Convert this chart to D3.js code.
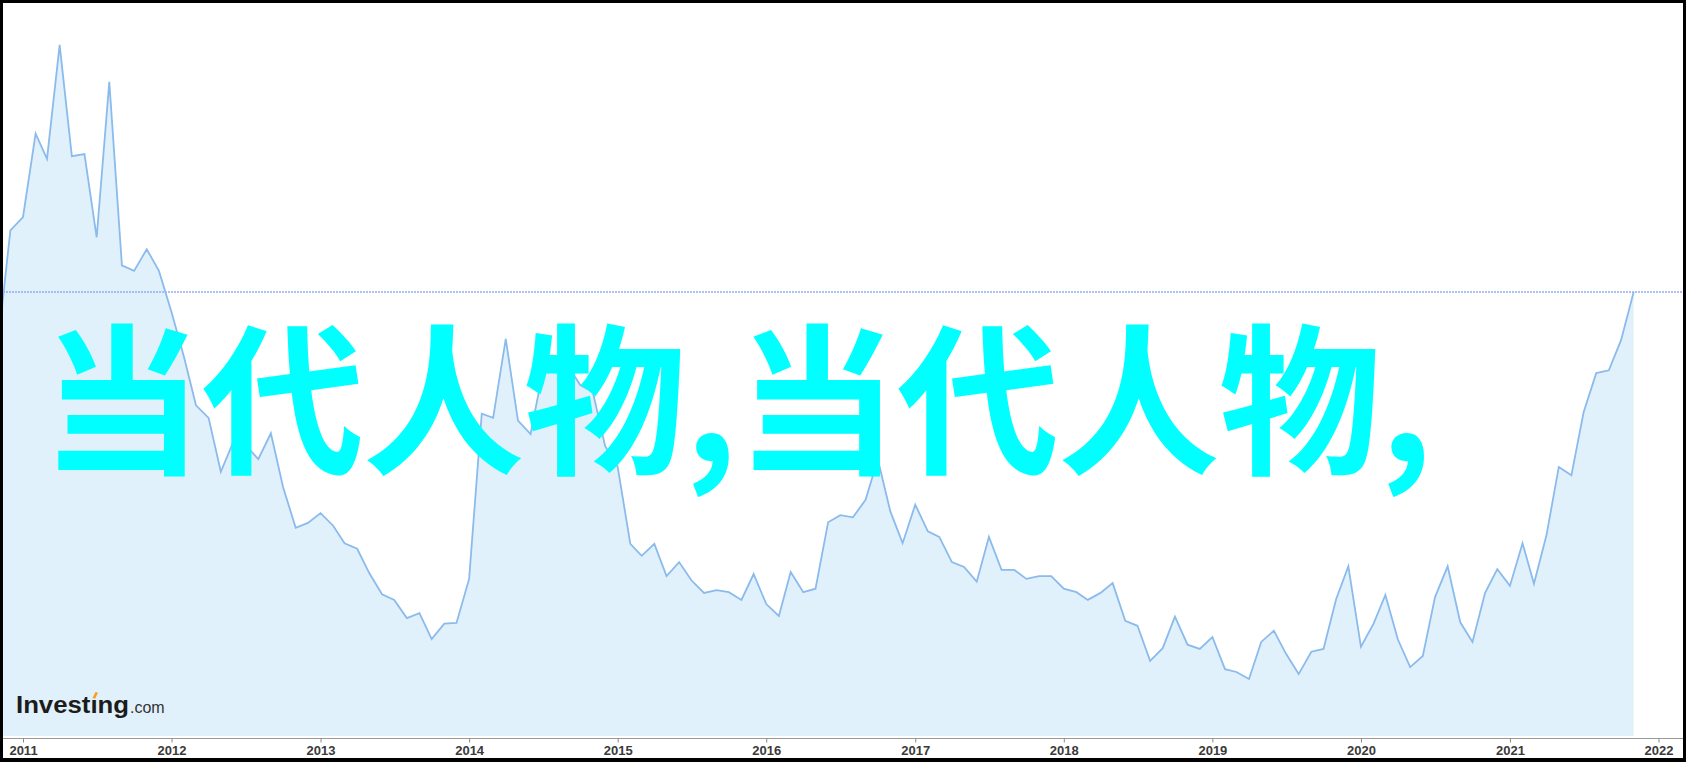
<!DOCTYPE html>
<html>
<head>
<meta charset="utf-8">
<script src="https://cdnjs.cloudflare.com/ajax/libs/d3/7.8.5/d3.min.js"></script>
<style>
  html, body { margin: 0; padding: 0; background: #000; }
  svg { display: block; }
</style>
</head>
<body>
<svg id="chart" width="1686" height="762"></svg>
<script>
// ---- data (monthly closes, index units) ----
const startMonth = "2010-11";
const values = [
  56.1, 72.1,
  74.0, 85.9, 82.3, 98.6, 82.7, 83.0, 71.1, 93.3, 67.1, 66.3, 69.4, 66.3,
  60.4, 53.9, 47.1, 45.3, 37.6, 41.9, 41.4, 39.4, 43.1, 35.4, 29.6, 30.3,
  31.7, 29.9, 27.4, 26.6, 23.1, 20.1, 19.3, 16.7, 17.4, 13.7, 15.9, 16.0,
  22.3, 45.9, 45.3, 56.6, 44.9, 43.0, 51.9, 54.0, 52.7, 50.0, 49.0, 41.3,
  38.3, 27.3, 25.6, 27.3, 22.7, 24.7, 22.1, 20.3, 20.7, 20.4, 19.3, 23.0,
  18.7, 17.0, 23.3, 20.4, 20.9, 30.4, 31.4, 31.1, 33.6, 39.4, 31.9, 27.4,
  32.9, 29.1, 28.3, 24.7, 24.0, 21.9, 28.3, 23.6, 23.6, 22.3, 22.7, 22.7,
  20.9, 20.4, 19.3, 20.3, 21.7, 16.3, 15.6, 10.6, 12.4, 16.9, 12.9, 12.3,
  14.0, 9.4, 9.0, 8.0, 13.3, 14.9, 11.6, 8.7, 11.9, 12.3, 19.4, 24.1,
  12.6, 15.9, 20.0, 13.6, 9.7, 11.3, 19.7, 24.1, 16.1, 13.3, 20.3, 23.7,
  21.3, 27.4, 21.6, 28.6, 38.3, 37.1, 46.1, 51.7, 52.1, 56.4, 63.3
];
const tickYears = ["2011","2012","2013","2014","2015","2016","2017","2018","2019","2020","2021","2022"];
const titleText = "当代人物,当代人物,";
const logoMain = "Investıng";
const logoSuffix = ".com";

// ---- derived ----
const parseMonth = d3.timeParse("%Y-%m");
const t0 = parseMonth(startMonth);
const data = values.map((v, i) => ({ date: d3.timeMonth.offset(t0, i), value: v }));
const lastValue = values[values.length - 1];

const W = 1686, H = 762;
const inner = { left: 3, top: 3, right: 1683, bottom: 758 };
const axisY = 738.5;
const fillBottom = 736;

const svg = d3.select("#chart");

// frame
svg.append("rect").attr("x", 0).attr("y", 0).attr("width", W).attr("height", H).attr("fill", "#000");
svg.append("rect").attr("x", inner.left).attr("y", inner.top)
  .attr("width", inner.right - inner.left).attr("height", inner.bottom - inner.top).attr("fill", "#fff");

svg.append("defs").append("clipPath").attr("id", "plotclip")
  .append("rect").attr("x", inner.left).attr("y", inner.top)
  .attr("width", inner.right - inner.left).attr("height", fillBottom - inner.top);

const x = d3.scaleTime()
  .domain([d3.timeParse("%Y")(tickYears[0]), d3.timeParse("%Y")(tickYears[tickYears.length - 1])])
  .range([23, 1658.5]);
const y = d3.scaleLinear().domain([0, 100]).range([735, 35]);

const plot = svg.append("g").attr("clip-path", "url(#plotclip)");

const area = d3.area().x(d => x(d.date)).y0(fillBottom).y1(d => y(d.value));
const line = d3.line().x(d => x(d.date)).y(d => y(d.value));

plot.append("path").datum(data).attr("d", area).attr("fill", "#e1f1fb");

// last price dotted line
plot.append("line")
  .attr("x1", inner.left).attr("x2", inner.right)
  .attr("y1", y(lastValue)).attr("y2", y(lastValue))
  .attr("stroke", "#93aeef").attr("stroke-width", 1.5).attr("stroke-dasharray", "2,1");

plot.append("path").datum(data).attr("d", line)
  .attr("fill", "none").attr("stroke", "#8bbbec").attr("stroke-width", 1.8)
  .attr("stroke-linejoin", "miter");

// x axis
const axisG = svg.append("g").attr("transform", `translate(0,${axisY})`);
axisG.append("line").attr("x1", inner.left).attr("x2", inner.right)
  .attr("y1", 0).attr("y2", 0).attr("stroke", "#9a9a9a").attr("stroke-width", 1.2);
const xAxis = d3.axisBottom(x)
  .tickValues(tickYears.map(d => d3.timeParse("%Y")(d)))
  .tickFormat(d3.timeFormat("%Y"))
  .tickSize(4).tickPadding(3);
axisG.call(xAxis);
axisG.select(".domain").remove();
axisG.selectAll(".tick line").attr("stroke", "#8a8a8a");
axisG.selectAll(".tick text")
  .attr("font-family", "'Liberation Sans', Arial, sans-serif")
  .attr("font-size", 13).attr("font-weight", "bold").attr("fill", "#3a3a3a");

// logo
const logo = svg.append("text").attr("x", 16).attr("y", 713)
  .attr("font-family", "'Liberation Sans', Arial, sans-serif");
const main = logo.append("tspan").attr("font-size", 23).attr("font-weight", "bold")
  .attr("fill", "#1c1c1c").attr("textLength", 113).attr("lengthAdjust", "spacingAndGlyphs")
  .text(logoMain);
logo.append("tspan").attr("font-size", 16).attr("fill", "#333").attr("dx", 1).text(logoSuffix);
const ext = logo.node().getExtentOfChar(6);
svg.append("path")
  .attr("d", `M${ext.x + ext.width/2 - 1.5},${ext.y + 6} l3,-6 l2.6,0.7 l-3,6 z`)
  .attr("fill", "#f5a11c");

// big overlay text
svg.append("text").attr("x", 41).attr("y", 462)
  .attr("font-family", "'Noto Sans CJK SC', sans-serif")
  .attr("font-size", 162).attr("font-weight", "bold").attr("fill", "#00ffff")
  .attr("letter-spacing", -1.1)
  .text(titleText);
</script>
</body>
</html>
